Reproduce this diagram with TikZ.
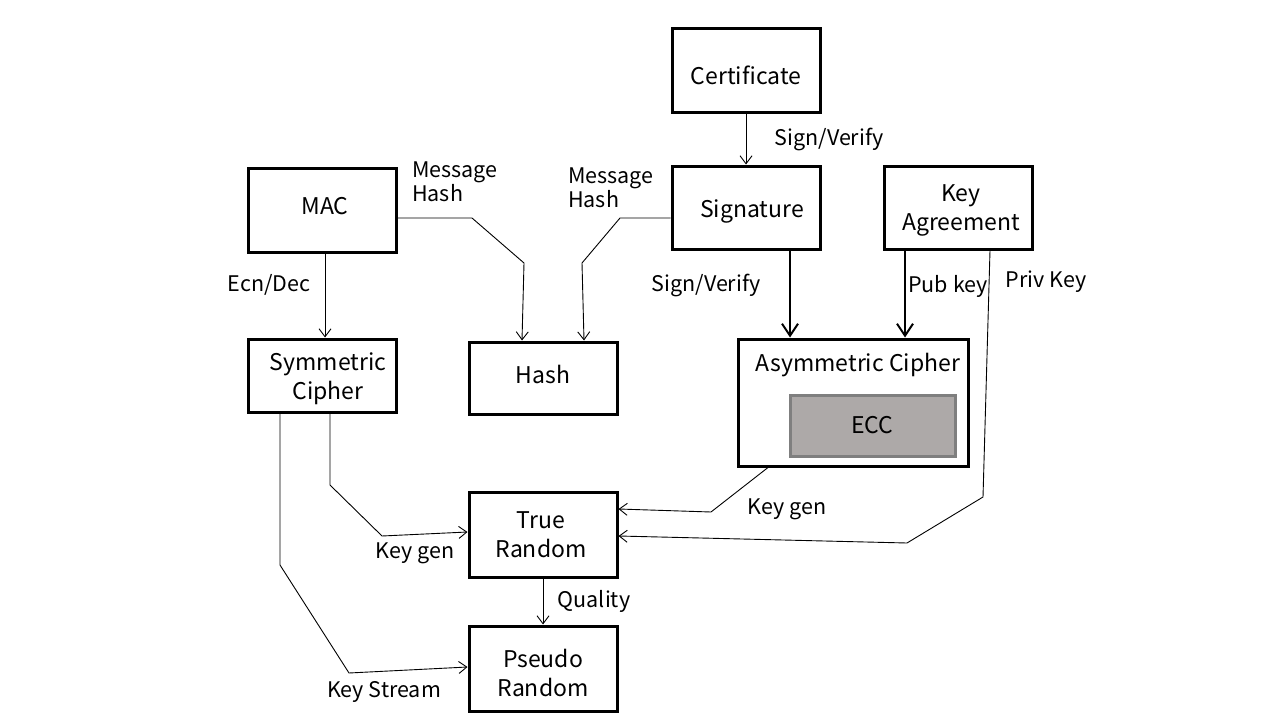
\documentclass[tikz,border=0pt]{standalone}
\usepackage{fontspec}
\setmainfont{Noto Sans CJK JP}
\usepackage{tikz}
\usetikzlibrary{arrows.meta,positioning,calc}

\definecolor{eccfill}{HTML}{ADA9A8}
\definecolor{eccline}{HTML}{7F7F7F}

\begin{document}
\begin{tikzpicture}[x=1pt,y=-1pt,>={Straight Barb[length=8pt,width=12pt]},
  blk/.style={draw,line width=3pt,minimum width=148pt,minimum height=84pt,inner sep=0pt},
  txt/.style={font=\fontsize{23}{29}\selectfont,align=center,inner sep=0pt},
  eccbox/.style={draw=eccline,fill=eccfill,line width=3pt,minimum width=165pt,minimum height=61pt,inner sep=0pt,font=\fontsize{23}{29}\selectfont},
  lbl/.style={font=\fontsize{21.5}{24}\selectfont,align=left,inner sep=0pt},
  link/.style={line width=0.9pt,->},
  fatlink/.style={line width=2pt,->,>={Straight Barb[length=12pt,width=16pt]}}]
  \useasboundingbox (0,0) rectangle (1280,720);
  \node[blk,label={[txt,yshift=-5pt]center:Certificate}] (cert) at (746,70) {};
  \node[blk,minimum height=83pt,label={[txt,xshift=6pt,yshift=-4pt]center:Signature}] (sig) at (746,207.5) {};
  \node[blk,minimum height=83pt,label={[txt,xshift=3pt,yshift=-3pt]center:Key\\Agreement}] (keyag) at (958,207.5) {};
  \node[blk,label={[txt,xshift=3pt,yshift=4pt]center:MAC}] (mac) at (322,210) {};
  \node[blk,minimum height=73pt,label={[txt,xshift=6pt,yshift=-3pt]center:Symmetric\\Cipher}] (sym) at (322,375.5) {};
  \node[blk,minimum height=72pt,label={[txt,yshift=4pt]center:Hash}] (hash) at (543,378) {};
  \node[blk,minimum width=230pt,minimum height=127pt,label={[txt,xshift=5pt,yshift=37pt]center:Asymmetric Cipher}] (asym) at (853,402.5) {};
  \node[eccbox] (ecc) at (872.5,425.5) {ECC};
  \node[blk,minimum height=85pt,label={[txt,xshift=-2pt]center:True\\Random}] (trand) at (543,534.5) {};
  \node[blk,minimum height=85pt,label={[txt,yshift=-4pt]center:Pseudo\\Random}] (prand) at (543,668.5) {};

  \draw[link] (cert.south) -- (sig.north);
  \draw[fatlink] ([xshift=44pt]sig.south) -- ([xshift=-63pt]asym.north);
  \draw[fatlink] ([xshift=-53pt]keyag.south) -- ([xshift=52pt]asym.north);
  \draw[link] ([xshift=32pt]keyag.south) -- (983,497) -- (907,543) -- ([yshift=-1.5pt]trand.east);
  \draw[link] ([xshift=-85pt]asym.south) -- (711,512) -- ([yshift=25.5pt]trand.east);
  \draw[link] ([xshift=8pt]sym.south) -- (330,485) -- (382,536) -- ([yshift=2.5pt]trand.west);
  \draw[link] ([xshift=-42pt]sym.south) -- (280,565) -- (349,673) -- ([yshift=1.5pt]prand.west);
  \draw[link] (trand.south) -- (prand.north);
  \draw[link] ([xshift=3pt]mac.south) -- ([xshift=3pt]sym.north);
  \draw[link] ([yshift=-8pt]mac.east) -- (472,218) -- (524,263) -- ([xshift=-21pt]hash.north);
  \draw[link] ([yshift=-10.5pt]sig.west) -- (620,218) -- (582,263) -- ([xshift=41pt]hash.north);

  \node[lbl] (certsig) at (829,139) {Sign/Verify};
  \node[lbl] (sigasym) at (706,285) {Sign/Verify};
  \node[lbl] (pubkey) at (948,286) {Pub key};
  \node[lbl] (privkey) at (1046,282) {Priv Key};
  \node[lbl] (encdec) at (269,285) {Ecn/Dec};
  \node[lbl,anchor=west] (machash) at (412,182) {Message\\Hash};
  \node[lbl,anchor=west] (sighash) at (568,188) {Message\\Hash};
  \node[lbl] (asymgen) at (787,509) {Key gen};
  \node[lbl] (symgen) at (415,553) {Key gen};
  \node[lbl] (keystream) at (384,692) {Key Stream};
  \node[lbl] (quality) at (594,601) {Quality};
\end{tikzpicture}
\end{document}
